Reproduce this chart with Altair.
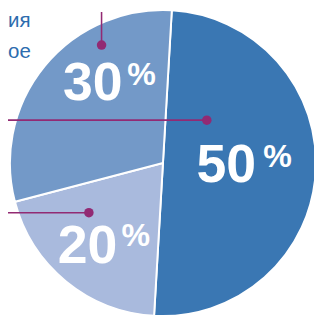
import math
import altair as alt
import pandas as pd

# ---- data ----
categories = ["A", "B", "C"]
values = [50, 20, 30]
labels = ["50", "20", "30"]
slice_order = [1, 2, 3]
colors = ["#3a77b3", "#a9badd", "#7399c8"]
side_texts = ["ия", "ое"]

df = pd.DataFrame({"cat": categories, "value": values, "label": labels, "ord": slice_order})

W, H = 314, 312
CX, CY, R = 159, 155, 157
START = 0.058
theta_scale = alt.Scale(domain=[0, 100], range=[START, START + 2 * math.pi])
FONT = "Liberation Sans"
PURPLE = "#922a73"
TEXT_BLUE = "#2d6cae"

pie = alt.Chart(df).mark_arc(outerRadius=R, stroke="white", strokeWidth=2).encode(
    theta=alt.Theta("value:Q", stack=True, scale=theta_scale),
    order=alt.Order("ord:Q"),
    x=alt.value(CX),
    y=alt.value(CY),
    color=alt.Color("cat:N", scale=alt.Scale(domain=categories, range=colors), legend=None),
)

lab_base = alt.Chart(df).transform_window(
    cum="sum(value)", sort=[alt.SortField("ord")], frame=[None, 0]
).transform_calculate(mid="datum.cum - datum.value / 2").encode(
    theta=alt.Theta("mid:Q", stack=None, scale=theta_scale),
    x=alt.value(CX),
    y=alt.value(CY),
)

# label placement: category -> (radius, dx, dy, pct_dx, pct_dy)
placements = {
    "A": (65, 0, 16, 52.6, 0.3),
    "B": (100, -14, 25.6, 35.4, 7.6),
    "C": (100, 5.4, -1.7, 55.4, -16.7),
}

label_layers = []
for cat, (r, dx, dy, pdx, pdy) in placements.items():
    sub = lab_base.transform_filter(alt.datum.cat == cat)
    label_layers.append(
        sub.mark_text(radius=r, dx=dx, dy=dy, font=FONT, fontWeight="bold", fontSize=55,
                      color="white", align="center", baseline="alphabetic").encode(text="label:N")
    )
    label_layers.append(
        sub.mark_text(radius=r, dx=pdx, dy=pdy, font=FONT, fontWeight="bold", fontSize=33,
                      color="white", align="center", baseline="alphabetic", text="%")
    )

one = pd.DataFrame({"k": [0]})

def rule(x1, x2, y1, y2):
    return alt.Chart(one).mark_rule(color=PURPLE, strokeWidth=1.6).encode(
        x=alt.value(x1), x2=alt.value(x2), y=alt.value(y1), y2=alt.value(y2)
    )

def dot(x, y):
    return alt.Chart(one).mark_point(filled=True, color=PURPLE, size=95, opacity=1).encode(
        x=alt.value(x), y=alt.value(y)
    )

annotations = [
    rule(96, 96, 0, 34), dot(96, 34),
    rule(0, 204, 111, 111), dot(204, 111),
    rule(0, 83, 206, 206), dot(83, 206),
]

texts = [
    alt.Chart(one).mark_text(font=FONT, fontSize=21, color=TEXT_BLUE, align="left",
                             baseline="alphabetic", text=side_texts[0]).encode(x=alt.value(0), y=alt.value(15)),
    alt.Chart(one).mark_text(font=FONT, fontSize=21, color=TEXT_BLUE, align="left",
                             baseline="alphabetic", text=side_texts[1]).encode(x=alt.value(0), y=alt.value(47)),
]

chart = alt.layer(pie, *label_layers, *annotations, *texts).properties(
    width=W, height=H, autosize=alt.AutoSizeParams(type="none"), padding=0
).configure_view(stroke=None)

chart.save("out.html", embed_options={"renderer": "svg", "actions": False})
